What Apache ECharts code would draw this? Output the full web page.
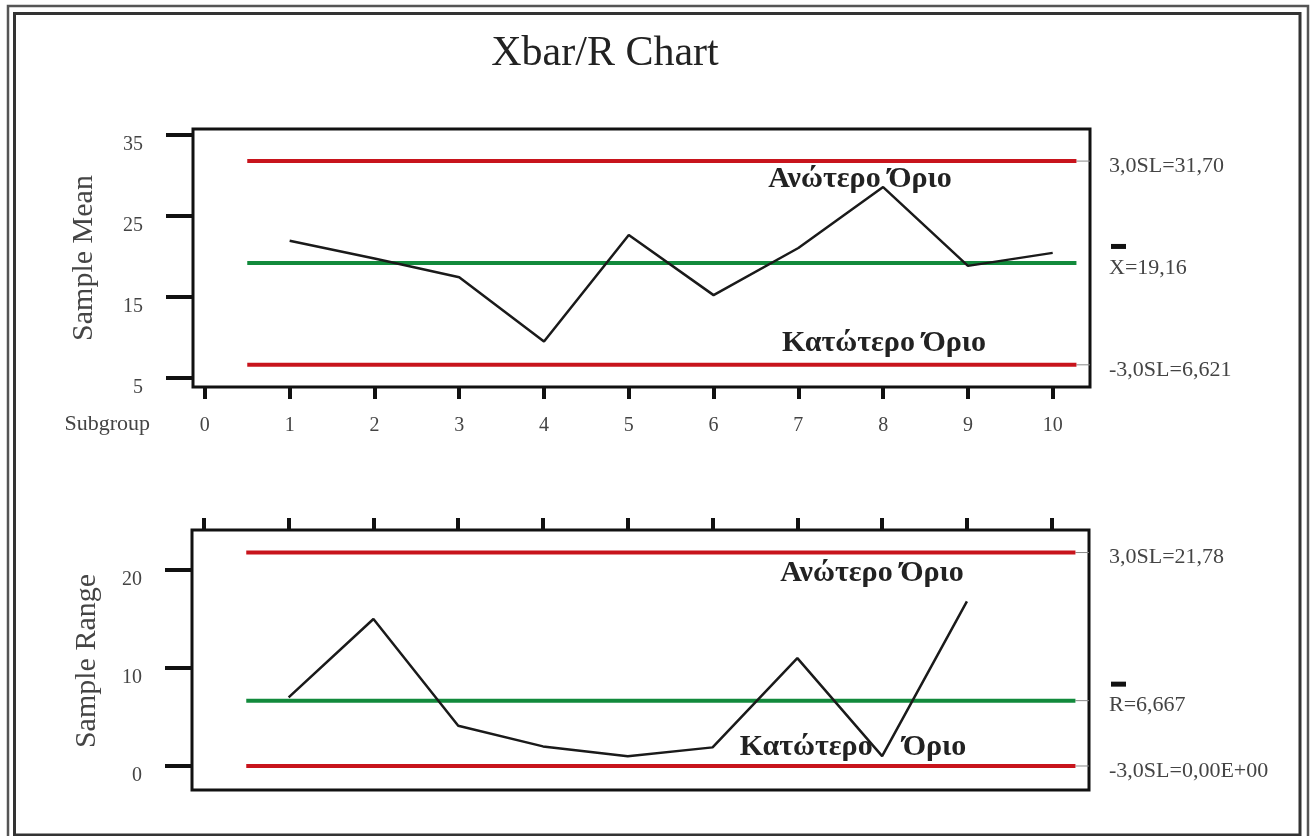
<!DOCTYPE html>
<html>
<head>
<meta charset="utf-8">
<title>Xbar/R Chart</title>
<script src="https://cdn.jsdelivr.net/npm/echarts@6/dist/echarts.min.js"></script>
<style>
  html, body { margin: 0; padding: 0; background: #fff; }
  #chart { width: 1312px; height: 836px; }
</style>
</head>
<body>
<div id="chart"></div>
<script>
// data
var subgroups = [1, 2, 3, 4, 5, 6, 7, 8, 9, 10];
var meanValues = [21.9, 19.7, 17.4, 9.5, 22.6, 15.2, 21.0, 28.5, 18.8, 20.4];
var rangeValues = [7.0, 15.0, 4.1, 2.0, 1.0, 1.9, 11.0, 1.0, 16.8];
var meanLimits = [31.70, 19.16, 6.621];   // UCL, centre, LCL
var rangeLimits = [21.78, 6.667, 0];
var meanLimitLabels = ['3,0SL=31,70', 'X=19,16', '-3,0SL=6,621'];
var rangeLimitLabels = ['3,0SL=21,78', 'R=6,667', '-3,0SL=0,00E+00'];
var xTicks = [0, 1, 2, 3, 4, 5, 6, 7, 8, 9, 10];
var meanTicks = [5, 15, 25, 35];
var rangeTicks = [0, 10, 20];

var FONT = 'Liberation Serif';
var limitColors = ['#c8141c', '#128a3c', '#c8141c'];
var limitStart = 0.5, limitEnd = 10.28;

var chart = echarts.init(document.getElementById('chart'));

function xAxisOf(grid, pos, showLabels) {
  return {
    type: 'value', gridIndex: grid, position: pos,
    min: -0.14, max: 10.44,
    axisLine: { show: false, onZero: false },
    splitLine: { show: false },
    axisTick: { inside: false, length: 12, customValues: xTicks,
      lineStyle: { color: '#111', width: 4 } },
    axisLabel: { show: showLabels, customValues: xTicks, margin: 29,
      fontFamily: FONT, fontSize: 20, color: '#444' }
  };
}

function yAxisOf(grid, min, max, ticks) {
  return {
    type: 'value', gridIndex: grid, min: min, max: max,
    axisLine: { show: false, onZero: false },
    splitLine: { show: false },
    axisTick: { inside: false, length: 27, customValues: ticks,
      lineStyle: { color: '#111', width: 4 } },
    // labels sit just below their tick in the original
    axisLabel: { customValues: ticks, margin: 50, verticalAlign: 'top',
      fontFamily: FONT, fontSize: 20, color: '#444' }
  };
}

function limitSeries(grid, limits) {
  var out = [];
  limits.forEach(function (v, i) {
    out.push({
      type: 'line', xAxisIndex: grid, yAxisIndex: grid, silent: true,
      showSymbol: false, z: 2,
      lineStyle: { color: limitColors[i], width: 4 },
      data: [[limitStart, v], [limitEnd, v]]
    });
  });
  return out;
}

var series = [].concat(limitSeries(0, meanLimits), limitSeries(1, rangeLimits));
series.push({
  type: 'line', xAxisIndex: 0, yAxisIndex: 0, showSymbol: false, z: 3,
  lineStyle: { color: '#1a1a1a', width: 2.5 },
  data: meanValues.map(function (v, i) { return [subgroups[i], v]; })
});
series.push({
  type: 'line', xAxisIndex: 1, yAxisIndex: 1, showSymbol: false, z: 3,
  lineStyle: { color: '#1a1a1a', width: 2.5 },
  data: rangeValues.map(function (v, i) { return [subgroups[i], v]; })
});

chart.setOption({
  animation: false,
  backgroundColor: '#fff',
  title: {
    text: 'Xbar/R Chart', left: 600, top: 28, textAlign: 'center',
    textStyle: { fontFamily: FONT, fontSize: 42, fontWeight: 'normal', color: '#222' }
  },
  grid: [
    { left: 193, top: 129, width: 897, height: 258, show: true,
      borderColor: '#111', borderWidth: 3, backgroundColor: 'transparent' },
    { left: 192, top: 530, width: 897, height: 260, show: true,
      borderColor: '#111', borderWidth: 3, backgroundColor: 'transparent' }
  ],
  xAxis: [xAxisOf(0, 'bottom', true), xAxisOf(1, 'top', false)],
  yAxis: [yAxisOf(0, 3.89, 35.65, meanTicks), yAxisOf(1, -2.45, 24.08, rangeTicks)],
  series: series
});

// texts placed after the scales are known
var g = [];
g.push({ type: 'rect', silent: true, shape: { x: 8, y: 6, width: 1300, height: 880 },
  style: { fill: 'none', stroke: '#555', lineWidth: 2.5 } });
g.push({ type: 'rect', silent: true, shape: { x: 14.5, y: 13.5, width: 1285.5, height: 821.5 },
  style: { fill: 'none', stroke: '#333', lineWidth: 3 } });

function sideLabels(grid, limits, labels) {
  limits.forEach(function (v, i) {
    var p = chart.convertToPixel({ gridIndex: grid }, [limitEnd, v]);
    g.push({ type: 'text', x: 1109, y: p[1] + 5, silent: true,
      style: { text: labels[i], fontFamily: FONT, fontSize: 22, fill: '#444',
        verticalAlign: 'middle', align: 'left' } });
    if (i === 1) {
      g.push({ type: 'rect', silent: true,
        shape: { x: 1111, y: p[1] + 5 - 24, width: 15, height: 5 },
        style: { fill: '#111' } });
    }
    if (i !== 1 || grid === 1) {
      var q = chart.convertToPixel({ gridIndex: grid }, [10.44, v]);
      g.push({ type: 'line', silent: true,
        shape: { x1: p[0], y1: p[1], x2: q[0], y2: q[1] },
        style: { stroke: '#888', lineWidth: 1 } });
    }
  });
}
sideLabels(0, meanLimits, meanLimitLabels);
sideLabels(1, rangeLimits, rangeLimitLabels);

function note(text, x, y) {
  g.push({ type: 'text', x: x, y: y, silent: true, z: 10,
    style: { text: text, fontFamily: FONT, fontSize: 30, fontWeight: 'bold', fill: '#222',
      align: 'center', verticalAlign: 'middle' } });
}
note('Ανώτερο Όριο', 860, 179);
note('Κατώτερο Όριο', 884, 343);
note('Ανώτερο Όριο', 872, 573);
note('Κατώτερο    Όριο', 853, 747);

g.push({ type: 'text', x: 150, y: 424, silent: true,
  style: { text: 'Subgroup', fontFamily: FONT, fontSize: 22, fill: '#444',
    align: 'right', verticalAlign: 'middle' } });
g.push({ type: 'text', x: 84, y: 258, rotation: Math.PI / 2, silent: true,
  style: { text: 'Sample Mean', fontFamily: FONT, fontSize: 30, fill: '#444',
    align: 'center', verticalAlign: 'middle' } });
g.push({ type: 'text', x: 87, y: 661, rotation: Math.PI / 2, silent: true,
  style: { text: 'Sample Range', fontFamily: FONT, fontSize: 30, fill: '#444',
    align: 'center', verticalAlign: 'middle' } });

chart.setOption({ graphic: g });
</script>
</body>
</html>
